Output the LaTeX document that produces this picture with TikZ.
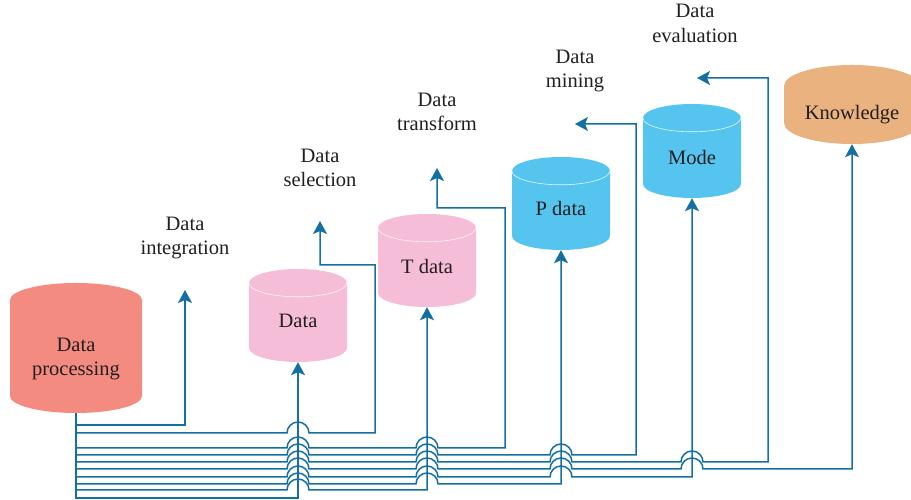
\documentclass[tikz,border=0pt]{standalone}
\usepackage{fontspec}
\setmainfont{Liberation Serif}
\usetikzlibrary{arrows.meta}

\definecolor{procred}{RGB}{244,139,129}
\definecolor{datapink}{RGB}{246,189,216}
\definecolor{datablue}{RGB}{85,197,239}
\definecolor{knowtan}{RGB}{233,178,127}
\definecolor{wireblue}{RGB}{20,112,162}
\definecolor{inkgray}{RGB}{35,31,32}

\begin{document}
\begin{tikzpicture}[x=1pt, y=1pt,
    font=\fontsize{20.5}{24.5}\selectfont,
    cyl/.style n args={4}{rectangle, inner sep=0pt, minimum width=#1, minimum height=#2,
        path picture={\fill[#4] ([yshift=-#3]path picture bounding box.north west)
            arc[start angle=180, end angle=0, x radius=#1/2, y radius=#3]
            -- ([yshift=#3]path picture bounding box.south east)
            arc[start angle=0, end angle=-180, x radius=#1/2, y radius=#3] -- cycle;}},
    rim/.style={draw=white, line width=0.6pt, opacity=0.85},
    lbl/.style={align=center, text=inkgray, inner sep=0pt},
    wire/.style={draw=wireblue, line width=1.5pt, -{Stealth[length=13pt, width=14pt, inset=3pt]}}
]
\useasboundingbox (0,0) rectangle (911,500);

% stores
\node (proc)  [cyl={132}{130}{17}{procred},  label={[lbl, yshift=-11pt]center:Data\\processing}] at (76,152) {};
\node (data)  [cyl={98}{93}{14}{datapink},   label={[lbl, yshift=-5pt]center:Data}] at (298,184.5) {};
\node (tdata) [cyl={98}{93}{14}{datapink},   label={[lbl, yshift=-6pt]center:T data}] at (427,239.5) {};
\node (pdata) [cyl={98}{93}{14}{datablue},   label={[lbl, yshift=-5pt]center:P data}] at (561,296.5) {};
\node (mode)  [cyl={98}{94}{14}{datablue},   label={[lbl, yshift=-6pt]center:Mode}] at (692,349) {};
\node (know)  [cyl={136}{79}{21}{knowtan},   label={[lbl, yshift=-10pt]center:Knowledge}] at (852,395.5) {};

\foreach \n in {data, tdata, pdata, mode}
  \draw[rim] ([yshift=-14pt]\n.north west) arc[start angle=180, end angle=360, x radius=49, y radius=14];

% step names
\node (lint)   [lbl] at (185,262)   {Data\\integration};
\node (lsel)   [lbl] at (320,332)   {Data\\selection};
\node (ltrans) [lbl] at (437,388)   {Data\\transform};
\node (lmin)   [lbl] at (575,429)   {Data\\mining};
\node (leval)  [lbl] at (695,476.5) {Data\\evaluation};

\coordinate (intTip)   at (185,210);
\coordinate (selTip)   at (320,279);
\coordinate (transTip) at (437,332);
\coordinate (minTip)   at (575,376);
\coordinate (evalTip)  at (697,422);

% wiring from the processing store
\draw[wire] (proc.south) -- (proc.south |- 0,75) -| (intTip);
\draw[wire] (proc.south) |- ([xshift=-11pt]data.south |- 0,67) arc[start angle=180, end angle=0, radius=11]
    -| (375,235) -| (selTip);
\draw[wire] (proc.south) |- ([xshift=-11pt]data.south |- 0,52) arc[start angle=180, end angle=0, radius=11]
    -- ([xshift=-11pt]tdata.south |- 0,52) arc[start angle=180, end angle=0, radius=11]
    -| (505,292) -| (transTip);
\draw[wire] (proc.south) |- ([xshift=-11pt]data.south |- 0,45) arc[start angle=180, end angle=0, radius=11]
    -- ([xshift=-11pt]tdata.south |- 0,45) arc[start angle=180, end angle=0, radius=11]
    -- ([xshift=-11pt]pdata.south |- 0,45) arc[start angle=180, end angle=0, radius=11]
    -| (636,376) -- (minTip);
\draw[wire] (proc.south) |- ([xshift=-11pt]data.south |- 0,38) arc[start angle=180, end angle=0, radius=11]
    -- ([xshift=-11pt]tdata.south |- 0,38) arc[start angle=180, end angle=0, radius=11]
    -- ([xshift=-11pt]pdata.south |- 0,38) arc[start angle=180, end angle=0, radius=11]
    -- ([xshift=-11pt]mode.south |- 0,38) arc[start angle=180, end angle=0, radius=11]
    -| (768,422) -- (evalTip);
\draw[wire] (proc.south) |- ([xshift=-11pt]data.south |- 0,31) arc[start angle=180, end angle=0, radius=11]
    -- ([xshift=-11pt]tdata.south |- 0,31) arc[start angle=180, end angle=0, radius=11]
    -- ([xshift=-11pt]pdata.south |- 0,31) arc[start angle=180, end angle=0, radius=11]
    -- ([xshift=-11pt]mode.south |- 0,31) arc[start angle=180, end angle=0, radius=11]
    -| (know.south);
\draw[wire] (proc.south) |- ([xshift=-11pt]data.south |- 0,23) arc[start angle=180, end angle=0, radius=11]
    -- ([xshift=-11pt]tdata.south |- 0,23) arc[start angle=180, end angle=0, radius=11]
    -- ([xshift=-11pt]pdata.south |- 0,23) arc[start angle=180, end angle=0, radius=11]
    -| (mode.south);
\draw[wire] (proc.south) |- ([xshift=-11pt]data.south |- 0,16) arc[start angle=180, end angle=0, radius=11]
    -- ([xshift=-11pt]tdata.south |- 0,16) arc[start angle=180, end angle=0, radius=11]
    -| (pdata.south);
\draw[wire] (proc.south) |- ([xshift=-11pt]data.south |- 0,10) arc[start angle=180, end angle=0, radius=11]
    -| (tdata.south);
\draw[wire] (proc.south) -- (proc.south |- 0,2) -| (data.south);

\end{tikzpicture}
\end{document}
